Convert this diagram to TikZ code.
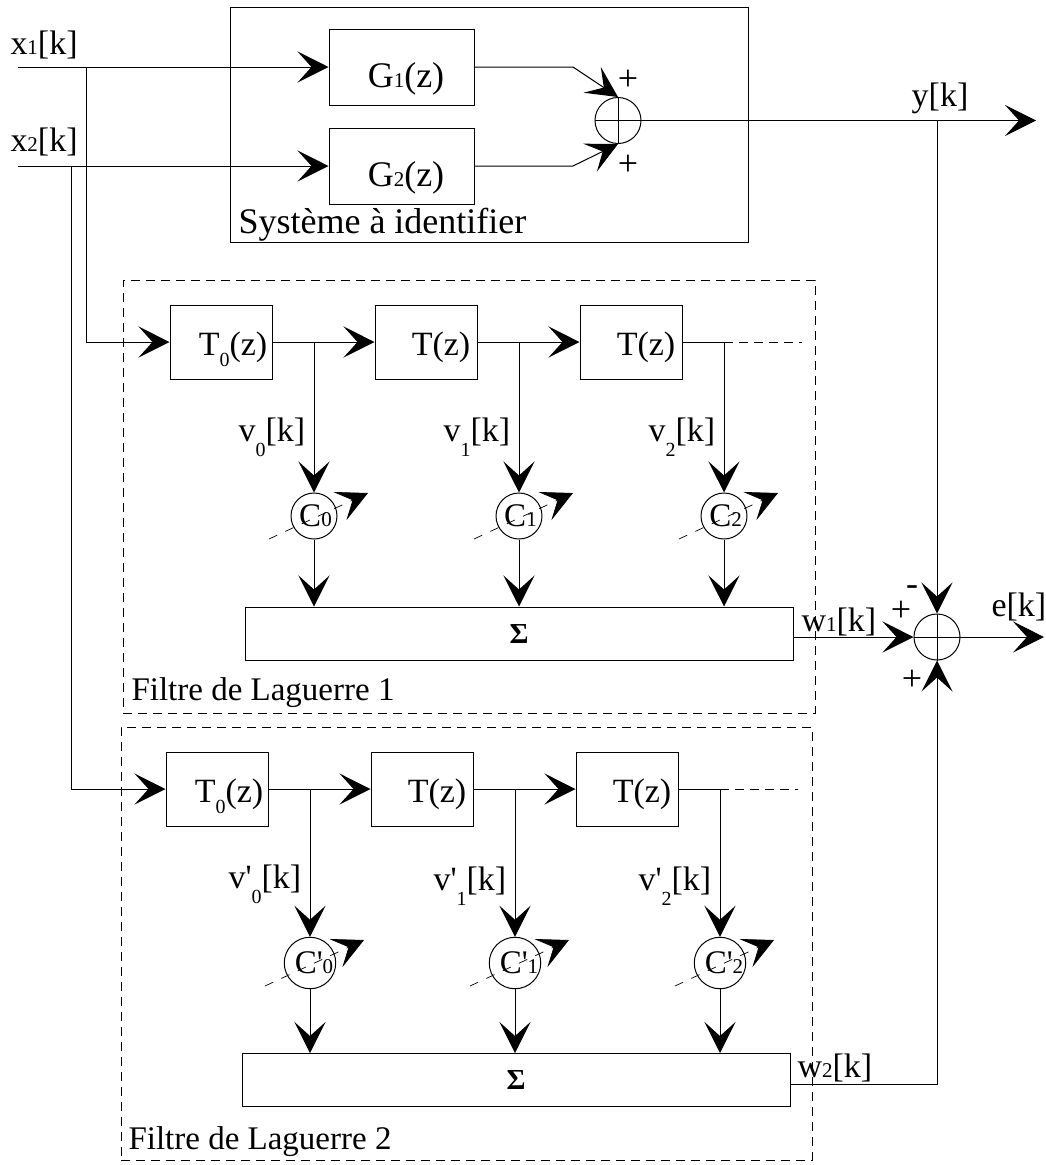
\documentclass[tikz,border=0pt]{standalone}
\usepackage{fontspec}
\setmainfont{Liberation Serif}
\newfontfamily\primefont{Liberation Serif}
\usetikzlibrary{arrows.meta}
\newcommand{\pSub}[1]{{\fontsize{21}{21}\selectfont #1}}
\newcommand{\pLow}[2][15pt]{\raisebox{-#1}{\fontsize{20}{20}\selectfont #2}}
\newcommand{\pPrime}{{\primefont '}}

\begin{document}
\begin{tikzpicture}[x=1pt,y=-1pt,line width=1pt,
  lbl/.style={font=\fontsize{34}{34}\selectfont, inner sep=0pt},
  caption/.style={font=\fontsize{33}{33}\selectfont, inner sep=0pt},
  sgn/.style={font=\fontsize{36}{36}\selectfont, inner sep=0pt},
  gbox/.style={draw, minimum width=145pt, minimum height=76pt, inner sep=0pt},
  tbox/.style={draw, minimum width=102pt, minimum height=74pt, inner sep=0pt},
  sigbox/.style={draw, minimum width=548pt, minimum height=53pt, inner sep=0pt, font=\fontsize{29}{29}\selectfont\bfseries},
  sumnode/.style={draw, circle, minimum size=46pt, inner sep=0pt},
  gain/.style={draw, circle, minimum size=46pt, inner sep=0pt, font=\fontsize{33}{33}\selectfont},
  flow/.style={-{Stealth[length=31pt,width=31pt,inset=14pt]}},
  tuner/.style={-{Stealth[length=31pt,width=31pt,inset=14pt]}, dashed, dash pattern=on 9pt off 9pt, line width=0.7pt},
  tail/.style={dashed, dash pattern=on 9pt off 6pt, line width=0.7pt},
  frame/.style={draw, dashed, dash pattern=on 9pt off 6pt}]
\useasboundingbox (0,0) rectangle (1045,1165);
\node[draw, minimum width=518pt, minimum height=235pt, inner sep=0pt] (plant) at (489,124.5) {};
\node[frame, minimum width=692pt, minimum height=433pt, inner sep=0pt] (frameA) at (469,496.5) {};
\node[frame, minimum width=691pt, minimum height=433pt, inner sep=0pt] (frameB) at (466.5,943.5) {};
\node[font=\fontsize{36}{36}\selectfont, inner sep=0pt, anchor=west] (plantlbl) at (238,225) {Système à identifier};
\node[caption, anchor=west] (frameAlbl) at (131,693) {Filtre de Laguerre 1};
\node[caption, anchor=west] (frameBlbl) at (128,1142) {Filtre de Laguerre 2};
\node[gbox] (gOne) at (401.5,67) {};
\node[gbox] (gTwo) at (401.5,166) {};
\node[lbl, font=\fontsize{36}{36}\selectfont, anchor=base] (gOneT) at (406,87) {G\pSub{1}(z)};
\node[lbl, font=\fontsize{36}{36}\selectfont, anchor=base] (gTwoT) at (406,186) {G\pSub{2}(z)};
\node[sumnode] (sumG) at (618,120.5) {};
\node[sumnode] (sumE) at (937,637) {};
\draw (sumG.north) -- (sumG.south);
\draw (sumG.west) -- (sumG.east);
\draw (sumE.north) -- (sumE.south);
\draw (sumE.west) -- (sumE.east);
\node[lbl, anchor=base west] (xOne) at (10,54) {x\pSub{1}[k]};
\node[lbl, anchor=base west] (xTwo) at (10,151) {x\pSub{2}[k]};
\node[lbl] (yk) at (940,98) {y[k]};
\node[lbl, anchor=base west] (ek) at (991,616) {e[k]};
\node[lbl, anchor=base west] (wOne) at (801,631) {w\pSub{1}[k]};
\node[lbl, anchor=base west] (wTwo) at (797,1077) {w\pSub{2}[k]};
\node[sgn] (pOne) at (628,80) {+};
\node[sgn] (pTwo) at (628,165) {+};
\node[sgn] (mE) at (912,591) {-};
\node[sgn] (pE) at (901,611) {+};
\node[sgn] (qE) at (912,680) {+};
\coordinate (xOneIn) at (18,67);
\coordinate (xTwoIn) at (18,166);
\coordinate (jOne) at (86,67);
\coordinate (jTwo) at (71,166);
\coordinate (kOne) at (573,67);
\coordinate (kTwo) at (573,166);
\coordinate (yOut) at (1036,120.5);
\coordinate (eOut) at (1044,637);
\node[tbox] (aT0) at (221,342) {};
\node[tbox] (aT1) at (426,342) {};
\node[tbox] (aT2) at (631,342) {};
\node[lbl, anchor=base] (aT0t) at (233,355) {T\pLow[11pt]{0}(z)};
\node[lbl, anchor=base] (aT1t) at (441,355) {T(z)};
\node[lbl, anchor=base] (aT2t) at (646,355) {T(z)};
\coordinate (aEnd) at (802,342);
\node[gain] (aC0) at (314,516) {\hspace*{3pt}C\pSub{0}};
\node[gain] (aC1) at (519,516) {\hspace*{3pt}C\pSub{1}};
\node[gain] (aC2) at (724,516) {\hspace*{3pt}C\pSub{2}};
\node[sigbox] (aSig) at (519,633.5) {Σ};
\node[lbl, anchor=base west] (aV0) at (238,441) {v\pLow{0}[k]};
\node[lbl, anchor=base west] (aV1) at (443,441) {v\pLow{1}[k]};
\node[lbl, anchor=base west] (aV2) at (648,441) {v\pLow{2}[k]};
\coordinate (aS0) at (269,539);
\coordinate (aE0) at (368,493);
\coordinate (aS1) at (474,539);
\coordinate (aE1) at (573,493);
\coordinate (aS2) at (679,539);
\coordinate (aE2) at (778,493);
\node[tbox] (bT0) at (217,789) {};
\node[tbox] (bT1) at (422,789) {};
\node[tbox] (bT2) at (627,789) {};
\node[lbl, anchor=base] (bT0t) at (229,802) {T\pLow[11pt]{0}(z)};
\node[lbl, anchor=base] (bT1t) at (437,802) {T(z)};
\node[lbl, anchor=base] (bT2t) at (642,802) {T(z)};
\coordinate (bEnd) at (798,789);
\node[gain] (bC0) at (310,963) {\hspace*{8pt}C\pPrime\pSub{0}};
\node[gain] (bC1) at (515,963) {\hspace*{8pt}C\pPrime\pSub{1}};
\node[gain] (bC2) at (720,963) {\hspace*{8pt}C\pPrime\pSub{2}};
\node[sigbox] (bSig) at (516,1080) {Σ};
\node[lbl, anchor=base west] (bV0) at (228,888) {v\pPrime\pLow{0}[k]};
\node[lbl, anchor=base west] (bV1) at (433,890) {v\pPrime\pLow{1}[k]};
\node[lbl, anchor=base west] (bV2) at (638,890) {v\pPrime\pLow{2}[k]};
\coordinate (bS0) at (265,986);
\coordinate (bE0) at (364,940);
\coordinate (bS1) at (470,986);
\coordinate (bE1) at (569,940);
\coordinate (bS2) at (675,986);
\coordinate (bE2) at (774,940);
\draw[flow] (xOneIn) -- (gOne.west);
\draw[flow] (xTwoIn) -- (gTwo.west);
\draw[flow] (gOne.east) -- (kOne) -- (sumG.north);
\draw[flow] (gTwo.east) -- (kTwo) -- (sumG.south);
\draw[flow] (sumG.east) -- (yOut);
\draw[flow] (sumE.east) -- (eOut);
\draw[flow] (sumE.north |- sumG.east) -- (sumE.north);
\draw[flow] (jOne) |- (aT0.west);
\draw[flow] (jTwo) |- (bT0.west);
\draw[flow] (aT0.east) -- (aT1.west);
\draw[flow] (aT1.east) -- (aT2.west);
\draw (aT2.east) -- (aC2 |- aT2.east);
\draw[tail] (aC2 |- aT2.east) -- (aEnd);
\draw[flow] (aC0 |- aT0.east) -- (aC0.north);
\draw[flow] (aC1 |- aT1.east) -- (aC1.north);
\draw[flow] (aC2 |- aT2.east) -- (aC2.north);
\draw[flow] (aC0.south) -- (aC0.south |- aSig.north);
\draw[flow] (aC1.south) -- (aC1.south |- aSig.north);
\draw[flow] (aC2.south) -- (aC2.south |- aSig.north);
\draw[tuner] (aS0) -- (aE0);
\draw[tuner] (aS1) -- (aE1);
\draw[tuner] (aS2) -- (aE2);
\draw[flow] (aSig.east |- sumE.west) -- (sumE.west);
\draw[flow] (bT0.east) -- (bT1.west);
\draw[flow] (bT1.east) -- (bT2.west);
\draw (bT2.east) -- (bC2 |- bT2.east);
\draw[tail] (bC2 |- bT2.east) -- (bEnd);
\draw[flow] (bC0 |- bT0.east) -- (bC0.north);
\draw[flow] (bC1 |- bT1.east) -- (bC1.north);
\draw[flow] (bC2 |- bT2.east) -- (bC2.north);
\draw[flow] (bC0.south) -- (bC0.south |- bSig.north);
\draw[flow] (bC1.south) -- (bC1.south |- bSig.north);
\draw[flow] (bC2.south) -- (bC2.south |- bSig.north);
\draw[tuner] (bS0) -- (bE0);
\draw[tuner] (bS1) -- (bE1);
\draw[tuner] (bS2) -- (bE2);
\draw[flow] ([yshift=-4pt]bSig.east) -| (sumE.south);
\end{tikzpicture}
\end{document}
